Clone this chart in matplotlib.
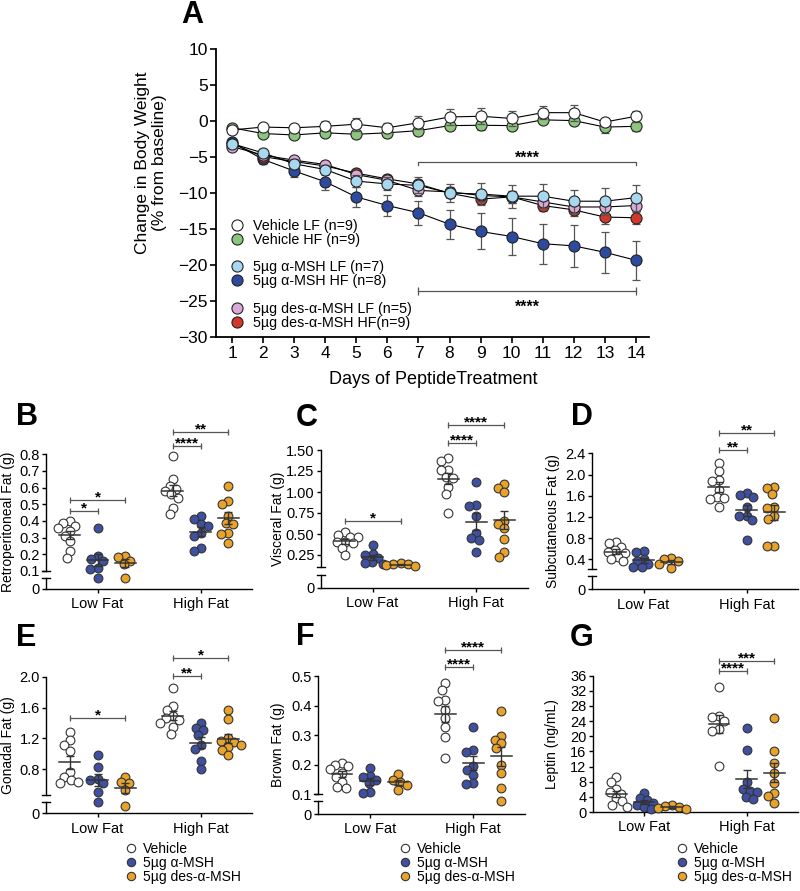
import numpy as np
import matplotlib.pyplot as plt
from matplotlib.lines import Line2D
from matplotlib.legend import Legend

plt.rcParams['font.family'] = ['Liberation Sans', 'DejaVu Sans']

# ---------------- datos panel A (media y SEM, % desde baseline)
days = list(range(1, 15))
veh_lf = [-1.2, -0.8, -0.9, -0.7, -0.4, -0.9, -0.2, 0.6, 0.7, 0.4, 1.2, 1.2, -0.1, 0.7]
veh_hf = [-0.9, -1.7, -1.9, -1.6, -1.8, -1.6, -1.3, -0.6, -0.55, -0.6, 0.2, 0.1, -0.8, -0.7]
msh_lf = [-3.1, -4.4, -5.9, -6.7, -8.3, -8.7, -8.9, -9.95, -10.1, -10.4, -10.4, -11.1, -11.1, -10.6]
msh_hf = [-2.9, -5.3, -6.9, -8.4, -10.5, -11.7, -12.7, -14.3, -15.3, -16.0, -17.0, -17.3, -18.2, -19.3]
des_lf = [-3.5, -4.7, -5.4, -6.0, -7.4, -8.2, -9.6, -9.8, -10.3, -10.5, -11.2, -11.9, -11.9, -11.7]
des_hf = [-3.1, -4.9, -5.6, -6.2, -7.2, -8.0, -8.7, -10.0, -10.8, -10.5, -11.7, -12.3, -13.3, -13.4]

veh_lf_sem = [0.3, 0.4, 0.5, 0.7, 0.9, 0.6, 0.9, 1.1, 1.1, 1.0, 0.9, 1.1, 0.6, 0.8]
veh_hf_sem = [0.3, 0.3, 0.4, 0.5, 0.5, 0.5, 0.6, 0.6, 0.6, 0.6, 0.5, 0.6, 0.8, 0.6]
msh_lf_sem = [0.3, 0.5, 0.6, 0.7, 0.8, 0.9, 1.1, 1.2, 1.5, 1.6, 1.7, 1.6, 1.9, 1.8]
msh_hf_sem = [0.3, 0.6, 0.8, 1.1, 1.4, 1.5, 1.7, 2.0, 2.5, 2.6, 2.8, 2.9, 2.8, 2.7]
des_lf_sem = [0.2, 0.4, 0.5, 0.5, 0.6, 0.6, 0.8, 0.7, 0.7, 0.8, 0.8, 0.9, 0.9, 0.9]
des_hf_sem = [0.2, 0.4, 0.4, 0.4, 0.5, 0.5, 0.6, 0.6, 0.7, 0.8, 0.8, 0.9, 0.9, 0.9]

# ---------------- datos paneles B-G: [vehicle, a-MSH, des-a-MSH]
retro_low = [[0.40, 0.39, 0.37, 0.36, 0.34, 0.31, 0.28, 0.22, 0.18],
             [0.36, 0.19, 0.17, 0.16, 0.12, 0.11, 0.06],
             [0.19, 0.185, 0.16, 0.14, 0.06]]
retro_high = [[0.79, 0.65, 0.61, 0.59, 0.58, 0.56, 0.54, 0.48, 0.44],
              [0.43, 0.41, 0.38, 0.37, 0.33, 0.31, 0.24, 0.22],
              [0.61, 0.52, 0.50, 0.43, 0.39, 0.38, 0.33, 0.32, 0.27]]

visc_low = [[0.52, 0.49, 0.47, 0.47, 0.41, 0.40, 0.39, 0.33, 0.25],
            [0.37, 0.26, 0.25, 0.21, 0.17, 0.15, 0.14],
            [0.15, 0.14, 0.14, 0.13, 0.12]]
visc_high = [[1.40, 1.37, 1.26, 1.26, 1.18, 1.17, 1.06, 0.98, 0.75],
             [1.12, 0.84, 0.83, 0.71, 0.51, 0.45, 0.43, 0.29],
             [1.09, 1.05, 1.00, 0.66, 0.62, 0.57, 0.44, 0.29, 0.23]]

subq_low = [[0.72, 0.71, 0.63, 0.57, 0.54, 0.52, 0.45, 0.40, 0.36],
            [0.56, 0.53, 0.41, 0.36, 0.31, 0.26, 0.25],
            [0.42, 0.40, 0.36, 0.31, 0.23]]
subq_high = [[2.22, 2.07, 1.90, 1.87, 1.71, 1.58, 1.55, 1.53, 1.39],
             [1.65, 1.61, 1.58, 1.39, 1.22, 1.21, 1.14, 0.77],
             [1.76, 1.74, 1.63, 1.39, 1.36, 1.21, 1.16, 0.66, 0.66]]

gon_low = [[1.28, 1.18, 1.12, 1.04, 0.76, 0.70, 0.66, 0.64, 0.62],
           [0.98, 0.83, 0.68, 0.66, 0.62, 0.50, 0.37],
           [0.70, 0.63, 0.62, 0.53, 0.33]]
gon_high = [[1.86, 1.62, 1.57, 1.49, 1.46, 1.44, 1.40, 1.35, 1.26],
            [1.40, 1.33, 1.31, 1.24, 1.12, 1.06, 0.91, 0.80],
            [1.57, 1.45, 1.20, 1.17, 1.15, 1.12, 1.09, 1.05, 0.99]]

brown_low = [[0.207, 0.200, 0.196, 0.185, 0.171, 0.160, 0.143, 0.126, 0.122],
             [0.188, 0.162, 0.160, 0.148, 0.137, 0.109, 0.106],
             [0.167, 0.148, 0.143, 0.131, 0.115]]
brown_high = [[0.475, 0.453, 0.419, 0.417, 0.385, 0.357, 0.326, 0.295, 0.224],
              [0.329, 0.250, 0.244, 0.194, 0.182, 0.165, 0.137, 0.135],
              [0.383, 0.297, 0.284, 0.272, 0.255, 0.199, 0.171, 0.120, 0.077]]

lep_low = [[9.2, 7.8, 6.2, 5.2, 4.8, 3.6, 2.8, 1.9, 1.4],
           [5.1, 3.6, 3.2, 2.5, 1.8, 1.4, 0.7],
           [1.9, 1.7, 1.3, 1.0, 0.9]]
lep_high = [[33.0, 25.3, 25.1, 24.0, 22.0, 21.5, 12.2],
            [22.1, 16.3, 7.8, 6.2, 5.6, 5.2, 4.0, 3.4],
            [24.7, 16.0, 13.0, 10.2, 7.6, 5.0, 4.3, 2.5]]

group_labels = ['Low Fat', 'High Fat']
treat_labels = ['Vehicle', '5\u00b5g \u03b1-MSH', '5\u00b5g des-\u03b1-MSH']

W, H = 800, 891
fig = plt.figure(figsize=(8, 8.91), dpi=100)


def px_box(l, t, r, b):
    return [l / W, 1 - b / H, (r - l) / W, (b - t) / H]


# ================= Panel A
axA = fig.add_axes(px_box(216, 49.3, 649, 337.3))
series = [
    (veh_hf, veh_hf_sem, '#8cc57e', 'Vehicle HF (n=9)'),
    (veh_lf, veh_lf_sem, '#ffffff', 'Vehicle LF (n=9)'),
    (msh_hf, msh_hf_sem, '#2e4a9e', '5\u00b5g \u03b1-MSH HF (n=8)'),
    (des_hf, des_hf_sem, '#d2382a', '5\u00b5g des-\u03b1-MSH HF(n=9)'),
    (des_lf, des_lf_sem, '#dba9d6', '5\u00b5g des-\u03b1-MSH LF (n=5)'),
    (msh_lf, msh_lf_sem, '#a8d8f0', '5\u00b5g \u03b1-MSH LF (n=7)'),
]
handles = {}
for k, (m, e, c, lab) in enumerate(series):
    z = 3 + k
    axA.errorbar(days, m, yerr=e, fmt='none', ecolor='#555555', elinewidth=0.9,
                 capsize=3, capthick=0.9, zorder=z)
    axA.plot(days, m, '-o', color='black', lw=0.8, mfc=c, mec='#222222',
             mew=0.8, ms=8, zorder=z + 0.5, clip_on=False)
    handles[lab] = Line2D([], [], ls='none', marker='o', mfc=c, mec='#222222', mew=0.8, ms=8)

axA.set_xlim(0.485, 14.42)
axA.set_ylim(-30, 10)
axA.set_xticks(days)
axA.set_yticks(range(-30, 11, 5))
for s in ['top', 'right']:
    axA.spines[s].set_visible(False)
for s in ['left', 'bottom']:
    axA.spines[s].set_linewidth(1.3)
axA.tick_params(length=4, width=1.2, labelsize=12.5, pad=2)

# significancia panel A
axA.plot([7, 7, 14, 14], [-6.1, -5.6, -5.6, -6.1], color='#555555', lw=0.9)
axA.annotate('****', (10.5, -5.6), xytext=(0, -1), textcoords='offset points',
             ha='center', va='baseline', fontsize=11.5, fontweight='bold')
axA.plot([7, 14], [-23.5, -23.5], color='#555555', lw=0.9, marker='|', ms=6, mew=0.9)
axA.annotate('****', (10.5, -23.5), xytext=(0, -15), textcoords='offset points',
             ha='center', va='baseline', fontsize=11.5, fontweight='bold')

legend_groups = [['Vehicle LF (n=9)', 'Vehicle HF (n=9)'],
                 ['5\u00b5g \u03b1-MSH LF (n=7)', '5\u00b5g \u03b1-MSH HF (n=8)'],
                 ['5\u00b5g des-\u03b1-MSH LF (n=5)', '5\u00b5g des-\u03b1-MSH HF(n=9)']]
for top_px, labs in zip([219.3, 260.3, 302.3], legend_groups):
    leg = Legend(axA, [handles[l] for l in labs], labs, loc='upper left',
                 bbox_to_anchor=((230.4 - 216) / 433, (337.3 - top_px) / 288),
                 frameon=False, fontsize=10.3, borderpad=0, borderaxespad=0,
                 handlelength=0.9, handletextpad=0.65, labelspacing=0)
    axA.add_artist(leg)

fig.text(433 / W, 1 - 379 / H, 'Days of PeptideTreatment', ha='center', va='center', fontsize=13)
fig.text(151 / W, 1 - 163 / H, 'Change in Body Weight\n(% from baseline)', ha='center',
         va='center', rotation=90, fontsize=12.5, linespacing=1.1)
fig.text(181 / W, 1 - 23 / H, 'A', fontsize=22, fontweight='bold', ha='left', va='baseline')

# ================= Paneles B-G
col_colors = ['#ffffff', '#3f50a0', '#e9a32b']
col_off = [-0.27, 0.0, 0.27]


def make_scale(top, p_top, ref, p_ref, knee, p_zero):
    s = (p_ref - p_top) / (top - ref)
    f_knee = (p_zero - p_ref) + (knee - ref) * s

    def fwd(y):
        y = np.asarray(y, dtype=float)
        return np.where(y >= knee, (p_zero - p_ref) + (y - ref) * s, y * f_knee / knee)

    def inv(p):
        p = np.asarray(p, dtype=float)
        return np.where(p >= f_knee, ref + (p - (p_zero - p_ref)) / s, p * knee / f_knee)
    return fwd, inv


def swarm(py, d):
    order = np.argsort(-py, kind='stable')
    xs = np.zeros(len(py))
    placed = []
    for i in order:
        cands = [0.0]
        for j in placed:
            dy = py[i] - py[j]
            if abs(dy) < d:
                dx = np.sqrt(d * d - dy * dy)
                cands += [xs[j] - dx, xs[j] + dx]
        cands.sort(key=abs)
        for c in cands:
            if all((c - xs[j]) ** 2 + (py[i] - py[j]) ** 2 >= d * d - 1e-6 for j in placed):
                xs[i] = c
                break
        placed.append(i)
    return xs


panels = [
    dict(letter='B', ylabel='Retroperitoneal Fat (g)', data=[retro_low, retro_high],
         box=(46, 454.3, 252, 589), scale=(0.8, 454.3, 0.1, 571, 0.04, 589), brk=(571, 578),
         ticks=[0, 0.1, 0.2, 0.3, 0.4, 0.5, 0.6, 0.7, 0.8], fmt='{:.1f}',
         brackets=[(0, 1, 0.462, '*'), (0, 2, 0.526, '*'), (1, 1, 0.85, '****'), (1, 2, 0.936, '**')],
         lab_x=8, let_xy=(16, 417)),
    dict(letter='C', ylabel='Visceral Fat (g)', data=[visc_low, visc_high],
         box=(320.7, 450, 528, 587.7), scale=(1.5, 450, 0.25, 555, 0.1, 587.7), brk=(567.3, 575),
         ticks=[0, 0.25, 0.5, 0.75, 1.0, 1.25, 1.5], fmt='{:.2f}',
         brackets=[(0, 2, 0.655, '*'), (1, 1, 1.58, '****'), (1, 2, 1.80, '****')],
         lab_x=278, let_xy=(296, 418)),
    dict(letter='D', ylabel='Subcutaneous Fat (g)', data=[subq_low, subq_high],
         box=(592, 453.3, 798, 589.3), scale=(2.4, 453.3, 0.4, 559.3, 0.2, 589.3), brk=(569.3, 576),
         ticks=[0, 0.4, 0.8, 1.2, 1.6, 2.0, 2.4], fmt='{:.1f}',
         brackets=[(1, 1, 2.46, '**'), (1, 2, 2.79, '**')],
         lab_x=553, let_xy=(571, 417)),
    dict(letter='E', ylabel='Gonadal Fat (g)', data=[gon_low, gon_high],
         box=(46, 676.7, 252, 813.3), scale=(2.0, 676.7, 0.8, 769.3, 0.3, 813.3), brk=(795, 801.7),
         ticks=[0, 0.8, 1.2, 1.6, 2.0], fmt='{:.1f}',
         brackets=[(0, 2, 1.46, '*'), (1, 1, 2.01, '**'), (1, 2, 2.24, '*')],
         lab_x=8, let_xy=(16, 638)),
    dict(letter='F', ylabel='Brown Fat (g)', data=[brown_low, brown_high],
         box=(318.3, 676, 525, 814), scale=(0.5, 676, 0.1, 794.3, 0.06, 814), brk=(794.3, 800.7),
         ticks=[0, 0.1, 0.2, 0.3, 0.4, 0.5], fmt='{:.1f}',
         brackets=[(1, 1, 0.53, '****'), (1, 2, 0.588, '****')],
         lab_x=278, let_xy=(296, 637)),
    dict(letter='G', ylabel='Leptin (ng/mL)', data=[lep_low, lep_high],
         box=(592.7, 675.7, 798, 812), scale=None, brk=None,
         ticks=list(range(0, 37, 4)), fmt='{:d}',
         brackets=[(1, 1, 37.2, '****'), (1, 2, 39.9, '***')],
         lab_x=552, let_xy=(570, 638)),
]

for p in panels:
    l, t, r, b = p['box']
    ax = fig.add_axes(px_box(l, t, r, b))
    xpx = (r - l) / 2.0
    if p['scale'] is not None:
        fwd, inv = make_scale(*p['scale'])
        ax.set_yscale('function', functions=(fwd, inv))
        top = p['scale'][0]
    else:
        top = p['ticks'][-1]
        k = (b - t) / top
        fwd = lambda y, k=k: np.asarray(y, dtype=float) * k
    ax.set_xlim(-0.5, 1.5)
    ax.set_ylim(0, top)

    for g, groups in enumerate(p['data']):
        for c, vals in enumerate(groups):
            v = np.array(vals)
            xs = g + col_off[c] + swarm(fwd(v), 7.2) / xpx
            ax.scatter(xs, v, s=40, c=col_colors[c], edgecolors='#333333',
                       linewidths=0.8, zorder=3, clip_on=False)
            m = v.mean()
            sem = v.std(ddof=1) / np.sqrt(len(v))
            xc = g + col_off[c]
            ax.plot([xc - 0.1, xc + 0.1], [m, m], color='#333333', lw=1.1, zorder=4)
            ax.errorbar([xc], [m], yerr=[sem], fmt='none', ecolor='#333333',
                        elinewidth=1, capsize=3, capthick=1, zorder=4)

    for g, c, y, txt in p['brackets']:
        x1, x2 = g + col_off[0], g + col_off[c]
        ax.plot([x1, x2], [y, y], color='#555555', lw=0.9, marker='|', ms=5,
                mew=0.9, clip_on=False)
        ax.annotate(txt, ((x1 + x2) / 2, y), xytext=(0, -1), textcoords='offset points',
                    ha='center', va='baseline', fontsize=11, fontweight='bold',
                    annotation_clip=False)

    ax.set_yticks(p['ticks'])
    ax.set_yticklabels(['0'] + [p['fmt'].format(v) for v in p['ticks'][1:]])
    ax.set_xticks([0, 1])
    ax.set_xticklabels(group_labels)
    ax.spines['top'].set_visible(False)
    ax.spines['right'].set_visible(False)
    ax.spines['bottom'].set_linewidth(1)
    ax.tick_params(axis='y', length=3, width=1, labelsize=10.5, pad=1.5)
    ax.tick_params(axis='x', length=3, width=1, labelsize=10.5, pad=3)

    if p['brk'] is not None:
        ax.spines['left'].set_visible(False)
        pb, plo = p['brk']
        y_b = float(inv(b - pb))
        y_lo = float(inv(b - plo))
        tr = ax.get_yaxis_transform()
        w = 4.0 / (r - l)
        ax.plot([0, 0], [y_b, top], transform=tr, color='black', lw=1, clip_on=False)
        ax.plot([0, 0], [0, y_lo], transform=tr, color='black', lw=1, clip_on=False)
        ax.plot([-w, w], [y_b, y_b], transform=tr, color='black', lw=1, clip_on=False)
        ax.plot([-w, w], [y_lo, y_lo], transform=tr, color='black', lw=1, clip_on=False)
    else:
        ax.spines['left'].set_linewidth(1)

    fig.text(p['lab_x'] / W, 1 - (t + b) / 2 / H, p['ylabel'], rotation=90,
             ha='center', va='center', fontsize=10)
    lx, ly = p['let_xy']
    fig.text(lx / W, 1 - ly / H, p['letter'], fontsize=22, fontweight='bold',
             ha='left', va='center')

# leyendas inferiores
leg_handles = [Line2D([], [], ls='none', marker='o', mfc=c, mec='#333333', mew=0.8, ms=6)
               for c in col_colors]
for mx in [130.7, 405, 681.7]:
    fig.legend(leg_handles, treat_labels, loc='upper left',
               bbox_to_anchor=((mx - 0.4 * 13.9) / W, 1 - 842 / H),
               frameon=False, fontsize=10, borderpad=0, borderaxespad=0,
               handlelength=0.8, handletextpad=0.45, labelspacing=0)

fig.savefig('out.png', dpi=100)
